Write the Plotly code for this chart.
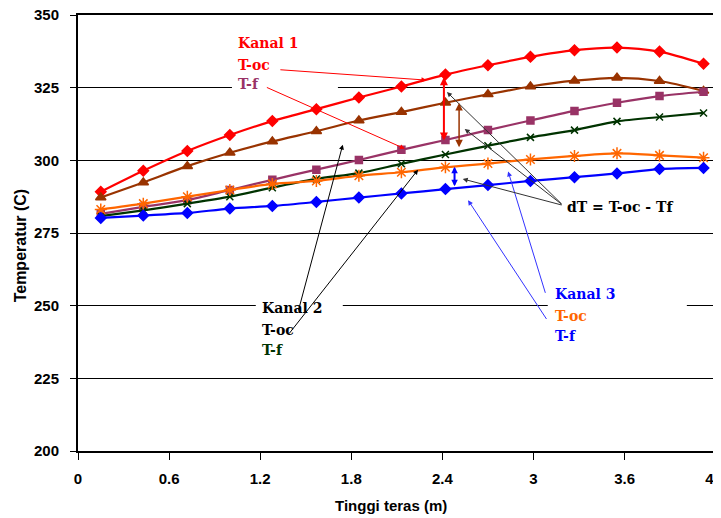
import numpy as np
import plotly.graph_objects as go

# ---------------- data ----------------
tinggi = [0.15, 0.43, 0.72, 1.00, 1.28, 1.57, 1.85, 2.13, 2.42, 2.70, 2.98, 3.27, 3.55, 3.83, 4.12]

k1_toc = [289.2, 296.4, 303.2, 308.7, 313.5, 317.6, 321.6, 325.4, 329.5, 332.7, 335.6, 337.9, 338.8, 337.4, 333.2]
k2_toc = [287.2, 292.4, 298.0, 302.6, 306.5, 310.0, 313.7, 316.6, 319.8, 322.7, 325.4, 327.4, 328.4, 327.3, 323.9]
k1_tf = [281.6, 284.0, 286.3, 289.8, 293.3, 296.8, 300.1, 303.6, 307.0, 310.4, 313.7, 317.0, 319.8, 322.1, 323.6]
k2_tf = [280.8, 282.8, 285.1, 287.5, 290.6, 293.6, 295.6, 298.8, 302.0, 305.0, 307.9, 310.4, 313.4, 314.9, 316.3]
k3_toc = [283.1, 285.1, 287.5, 289.8, 291.9, 292.9, 294.7, 295.9, 297.6, 298.9, 300.3, 301.5, 302.4, 301.7, 300.9]
k3_tf = [280.2, 281.0, 281.9, 283.4, 284.3, 285.7, 287.2, 288.6, 290.1, 291.5, 292.9, 294.2, 295.5, 297.0, 297.4]

x_ticks = [0, 0.6, 1.2, 1.8, 2.4, 3.0, 3.6, 4.2]
x_ticktext = ["0", "0.6", "1.2", "1.8", "2.4", "3", "3.6", "4.2"]
y_ticks = [200, 225, 250, 275, 300, 325, 350]

RED = "#FF0000"
BROWN = "#993300"
PURPLE = "#993366"
GREEN = "#003300"
ORANGE = "#FF6600"
BLUE = "#0000FF"

series = [
    (k1_toc, RED, "diamond", 8, "Kanal 1 T-oc"),
    (k2_toc, BROWN, "triangle-up", 9, "Kanal 2 T-oc"),
    (k1_tf, PURPLE, "square", 7, "Kanal 1 T-f"),
    (k2_tf, GREEN, "x-thin-open", 7, "Kanal 2 T-f"),
    (k3_toc, ORANGE, "asterisk-open", 10, "Kanal 3 T-oc"),
    (k3_tf, BLUE, "diamond", 8, "Kanal 3 T-f"),
]

fig = go.Figure()
for ys, col, sym, sz, name in series:
    fig.add_trace(go.Scatter(
        x=tinggi, y=ys, mode="lines+markers", name=name,
        line=dict(color=col, width=2.2, shape="spline", smoothing=0.8),
        marker=dict(symbol=sym, size=sz, color=col, line=dict(color=col, width=1.5)),
    ))

# ---------------- annotations ----------------
LAB = dict(family="DejaVu Serif", size=14, weight="bold")
ann = []


def label(x, y, text, color):
    ann.append(dict(x=x, y=y, xref="x", yref="y", text=text, showarrow=False,
                    xanchor="left", yanchor="middle",
                    font=dict(LAB, color=color)))


def arrow(x0, y0, x1, y1, color, width=1, both=False, size=1.0, head=2):
    a = dict(x=x1, y=y1, ax=x0, ay=y0, xref="x", yref="y", axref="x", ayref="y",
             text="", showarrow=True, arrowhead=head, arrowsize=size,
             arrowwidth=width, arrowcolor=color, standoff=0, startstandoff=0)
    if both:
        a["arrowside"] = "end+start"
        a["startarrowhead"] = head
        a["startarrowsize"] = size
    ann.append(a)


# Kanal 1
label(1.04, 340.5, "Kanal 1", RED)
label(1.04, 332.8, "T-oc", RED)
label(1.04, 326.2, "T-f", PURPLE)
# Kanal 2
label(1.20, 249.2, "Kanal 2", "#000000")
label(1.20, 241.6, "T-oc", "#000000")
label(1.20, 234.6, "T-f", GREEN)
# Kanal 3
label(3.13, 254.0, "Kanal 3", BLUE)
label(3.13, 246.4, "T-oc", ORANGE)
label(3.13, 239.4, "T-f", BLUE)
# dT
label(3.21, 284.0, "dT = T-oc - Tf", "#000000")

# label arrows
arrow(1.323, 331.2, 2.295, 327.6, RED, 1)
arrow(1.234, 325.3, 2.152, 304.0, RED, 1)
arrow(1.449, 247.8, 1.744, 305.4, "#000000", 1)
arrow(1.383, 239.9, 2.240, 296.8, "#000000", 1)
arrow(3.081, 253.9, 2.833, 296.2, "#3333FF", 1)
arrow(3.092, 244.9, 2.569, 286.3, "#3333FF", 1)
arrow(3.195, 284.5, 2.430, 323.5, "#333333", 1)
arrow(3.195, 284.5, 2.547, 310.8, "#333333", 1)
arrow(3.195, 284.5, 2.534, 293.6, "#333333", 1)

# dT double arrows (between T-oc and T-f of each channel)
xr, xb, xbl = 2.41, 2.51, 2.48
arrow(xr, float(np.interp(xr, tinggi, k1_tf)) - 0.6, xr, float(np.interp(xr, tinggi, k1_toc)) - 0.8,
      RED, 2, both=True, size=0.8)
arrow(xb, float(np.interp(xb, tinggi, k2_tf)) + 1.0, xb, float(np.interp(xb, tinggi, k2_toc)) - 1.0,
      BROWN, 1.5, both=True, size=1.0)
arrow(xbl, float(np.interp(xbl, tinggi, k3_tf)) + 0.2, xbl, float(np.interp(xbl, tinggi, k3_toc)) - 0.1,
      BLUE, 2, both=True, size=0.65)

# axis titles
AX = dict(family="Liberation Sans", size=15, weight="bold", color="#000000")
ann.append(dict(x=0.487, y=-0.125, xref="paper", yref="paper", text="Tinggi teras (m)",
                showarrow=False, xanchor="center", yanchor="middle", font=AX))
ann.append(dict(x=-0.090, y=0.472, xref="paper", yref="paper", text="Temperatur (C)",
                showarrow=False, xanchor="center", yanchor="middle", textangle=-90,
                font=dict(AX, size=16)))

# white boxes masking gridlines behind the label blocks
shapes = [
    dict(type="rect", xref="x", yref="y", x0=1.014, x1=1.712, y0=322.9, y1=344.6,
         fillcolor="white", line=dict(width=0), layer="between"),
    dict(type="rect", xref="x", yref="y", x0=1.171, x1=1.744, y0=236.1, y1=257.8,
         fillcolor="white", line=dict(width=0), layer="between"),
    dict(type="rect", xref="x", yref="y", x0=3.094, x1=4.010, y0=240.7, y1=262.4,
         fillcolor="white", line=dict(width=0), layer="between"),
]

TICK = dict(family="Liberation Sans", size=15, weight="bold", color="#000000")

fig.update_layout(
    width=713, height=510,
    margin=dict(l=70, r=0, t=7, b=67, autoexpand=False),
    paper_bgcolor="white", plot_bgcolor="white",
    showlegend=False,
    annotations=ann, shapes=shapes,
    xaxis=dict(range=[0, 4.235], tickmode="array", tickvals=x_ticks, ticktext=x_ticktext,
               showgrid=False, zeroline=False, showline=True, linecolor="black", linewidth=2,
               mirror=True, ticks="outside", ticklen=7, tickwidth=1, tickcolor="black",
               tickfont=TICK, ticklabelstandoff=6, ticklabeloverflow="allow"),
    yaxis=dict(range=[200, 350], tickmode="array", tickvals=y_ticks,
               showgrid=True, gridcolor="black", gridwidth=1, zeroline=False,
               showline=True, linecolor="black", linewidth=2,
               ticks="outside", ticklen=6, tickwidth=1, tickcolor="black",
               tickfont=TICK, ticklabelstandoff=8, ticklabeloverflow="allow"),
)

fig.write_html("out.html")
